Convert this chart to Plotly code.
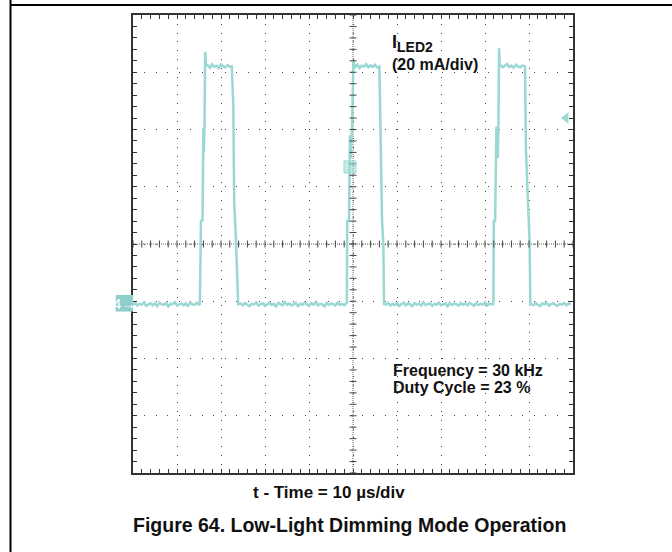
import numpy as np
import plotly.graph_objects as go

# ---------------- data (read from the scope capture) ----------------
# current in mA (20 mA/div), time in microseconds (10 us/div), 0 = screen centre
SAMPLE_US = 0.5

base1_t0 = -50.0
base1_mA = [-21.3, -20.6, -21.5, -20.9, -21.2, -20.4, -21.6, -21.0, -20.7, -21.4,
            -20.8, -21.7, -20.5, -21.1, -21.3, -20.6, -21.8, -20.9, -21.0, -20.3,
            -21.5, -21.2, -20.7, -21.4, -20.8, -21.6, -20.6, -21.1, -21.3, -20.5, -21.2]
rise1_t = [-34.8, -34.55, -34.2, -34.0, -33.9, -33.75, -33.6, -33.4]
rise1_mA = [-21.0, 8.4, 8.0, 40.4, 32.0, 41.0, 67.2, 62.5]
plat1_t0 = -33.0
plat1_mA = [62.4, 61.6, 62.8, 61.9, 62.3, 61.5, 62.7, 62.0, 61.7, 62.5, 61.9]
fall1_t = [-27.55, -27.2, -27.0, -26.6, -26.1]
fall1_mA = [62.0, 48.0, 14.2, 1.4, -21.0]

base2_t0 = -25.5
base2_mA = [-20.8, -21.4, -20.6, -21.2, -21.7, -20.9, -21.1, -20.4, -21.5, -21.0,
            -20.7, -21.6, -21.2, -20.5, -21.3, -20.9, -21.8, -20.6, -21.1, -21.4,
            -20.3, -21.2, -20.8, -21.5, -21.0, -20.6, -21.7, -20.9, -21.3, -20.5,
            -21.1, -21.6, -20.7, -21.2, -20.4, -21.4, -20.9, -21.1, -21.8, -20.6,
            -21.3, -20.8, -21.0, -21.5, -20.5, -21.2, -20.9, -21.4, -20.7]
rise2_t = [-1.4, -1.3, -0.9, -0.7, -0.5, -0.2, 0.1, 0.4]
rise2_mA = [-21.0, 8.0, 8.0, 38.0, 30.0, 42.0, 64.0, 62.0]
plat2_t0 = 0.5
plat2_mA = [61.8, 62.6, 61.5, 62.3, 62.0, 62.8, 61.7, 62.4, 61.9, 62.6, 61.6]
fall2_t = [6.0, 6.1, 6.35, 6.6, 6.9, 7.05]
fall2_mA = [62.0, 50.0, 22.0, 8.0, 0.0, -21.0]

base3_t0 = 7.5
base3_mA = [-21.2, -20.6, -21.5, -20.9, -21.3, -20.7, -21.6, -21.0, -20.5, -21.4,
            -20.8, -21.1, -21.7, -20.6, -21.2, -20.9, -21.5, -20.4, -21.3, -21.0,
            -20.7, -21.6, -20.9, -21.2, -20.5, -21.4, -21.1, -20.8, -21.8, -20.6,
            -21.3, -20.9, -21.0, -21.5, -20.6, -21.2, -20.8, -21.4, -20.5, -21.1,
            -21.6, -20.7, -21.3, -20.9, -21.2, -20.4, -21.5, -20.8, -21.1]
rise3_t = [31.9, 32.0, 32.3, 32.6, 32.9, 33.05, 33.2, 33.35]
rise3_mA = [-21.0, 8.0, 8.0, 41.0, 30.0, 41.0, 68.4, 62.0]
plat3_t0 = 33.5
plat3_mA = [62.5, 61.7, 62.2, 62.9, 61.8, 62.3, 61.6, 62.6, 62.0, 61.7, 62.4]
fall3_t = [39.1, 39.3, 39.6, 39.9, 40.15, 40.3]
fall3_mA = [62.0, 33.0, 20.0, 7.0, 0.0, -21.0]

base4_t0 = 40.5
base4_mA = [-20.9, -21.4, -20.6, -21.2, -21.7, -20.8, -21.1, -20.5, -21.5, -21.0,
            -20.7, -21.3, -21.6, -20.9, -21.2, -20.6, -21.4, -20.8, -21.1]

ref_level_mA = 44.0          # channel reference arrow at right
ground_mA = -21.0            # channel-4 ground marker
trig_t, trig_mA = -0.7, 26.9  # trigger marker

x_range = [-50, 50]
y_range = [-80, 80]
x_div, y_div = 10, 20

# ---------------- assemble trace ----------------
def sampled(t0, vals):
    return [t0 + SAMPLE_US * i for i in range(len(vals))], list(vals)

t_all, v_all = [], []
for part in [sampled(base1_t0, base1_mA), (rise1_t, rise1_mA), sampled(plat1_t0, plat1_mA), (fall1_t, fall1_mA),
             sampled(base2_t0, base2_mA), (rise2_t, rise2_mA), sampled(plat2_t0, plat2_mA), (fall2_t, fall2_mA),
             sampled(base3_t0, base3_mA), (rise3_t, rise3_mA), sampled(plat3_t0, plat3_mA), (fall3_t, fall3_mA),
             sampled(base4_t0, base4_mA)]:
    t_all += list(part[0])
    v_all += list(part[1])

TEAL = "#9ad8d4"
FONT = "Liberation Sans, Arial, sans-serif"

fig = go.Figure()
fig.add_trace(go.Scatter(x=t_all, y=v_all, mode="lines",
                         line=dict(color=TEAL, width=2.5), hoverinfo="skip", showlegend=False))

# centre-line minor ticks
xt = np.arange(x_range[0], x_range[1] + 0.001, x_div / 5)
yt = np.arange(y_range[0], y_range[1] + 0.001, y_div / 5)
fig.add_trace(go.Scatter(x=xt, y=np.zeros_like(xt), mode="markers",
                         marker=dict(symbol="line-ns", size=5, line=dict(width=1, color="#444")),
                         hoverinfo="skip", showlegend=False))
fig.add_trace(go.Scatter(x=np.zeros_like(yt), y=yt, mode="markers",
                         marker=dict(symbol="line-ew", size=5, line=dict(width=1, color="#444")),
                         hoverinfo="skip", showlegend=False))
# reference arrow
fig.add_trace(go.Scatter(x=[48.4], y=[ref_level_mA], mode="markers",
                         marker=dict(symbol="triangle-left", size=10, color=TEAL),
                         hoverinfo="skip", showlegend=False, cliponaxis=False))

shapes = [
    dict(type="line", xref="x", yref="y", x0=0, x1=0, y0=y_range[0], y1=y_range[1],
         line=dict(color="#666", width=1, dash="1px,1px"), layer="below"),
    dict(type="line", xref="x", yref="y", x0=x_range[0], x1=x_range[1], y0=0, y1=0,
         line=dict(color="#666", width=1, dash="1px,1px"), layer="below"),
    # channel ground marker box
    dict(type="rect", xref="paper", yref="y", x0=-0.0393, x1=0.0, y0=ground_mA - 2.6, y1=ground_mA + 3.2,
         fillcolor="#8ccfcb", line=dict(width=0), layer="above"),
    # trigger marker
    dict(type="rect", xref="x", yref="y", x0=trig_t - 1.35, x1=trig_t + 1.35, y0=trig_mA - 2.1, y1=trig_mA + 2.1,
         fillcolor="rgba(154,216,212,0.55)", line=dict(width=1, color=TEAL), layer="above"),
    # page frame
    dict(type="line", xref="paper", yref="paper", x0=-0.2784, x1=-0.2784, y0=1.04, y1=-0.18,
         line=dict(color="black", width=2)),
    dict(type="line", xref="paper", yref="paper", x0=-0.2784, x1=1.25, y0=1.0218, y1=1.0218,
         line=dict(color="black", width=2)),
]

annotations = [
    dict(text="I<sub><span style='font-size:14px'>LED2</span></sub>", xref="x", yref="y", x=8.3, y=70.0,
         xanchor="left", yanchor="middle", showarrow=False,
         font=dict(family=FONT, size=18, color="#111", weight="bold")),
    dict(text="(20 mA/div)", xref="x", yref="y", x=8.3, y=62.6, xanchor="left", yanchor="middle",
         showarrow=False, font=dict(family=FONT, size=16, color="#111", weight="bold")),
    dict(text="Frequency = 30 kHz", xref="x", yref="y", x=8.6, y=-44.3, xanchor="left", yanchor="middle",
         showarrow=False, font=dict(family=FONT, size=16, color="#111", weight="bold")),
    dict(text="Duty Cycle = 23 %", xref="x", yref="y", x=8.6, y=-50.0, xanchor="left", yanchor="middle",
         showarrow=False, font=dict(family=FONT, size=16, color="#111", weight="bold")),
    dict(text="4\u2192", xref="paper", yref="y", x=-0.0195, y=ground_mA + 0.3, xanchor="center",
         yanchor="middle", showarrow=False, font=dict(family=FONT, size=15, color="white")),
    dict(text="t - Time = 10 \u00b5s/div", xref="paper", yref="paper", x=0.4455, y=-0.0432,
         xanchor="center", yanchor="middle", showarrow=False,
         font=dict(family=FONT, size=17, color="#111", weight="bold")),
    dict(text="Figure 64. Low-Light Dimming Mode Operation", xref="paper", yref="paper", x=0.492, y=-0.1135,
         xanchor="center", yanchor="middle", showarrow=False,
         font=dict(family=FONT, size=19.5, color="#111", weight="bold")),
]

axis_common = dict(showline=True, linecolor="#333", linewidth=1.5, mirror="ticks",
                   ticks="inside", ticklen=4, tickcolor="#333", tickwidth=1,
                   showticklabels=False, zeroline=False, showgrid=True,
                   gridcolor="#444", gridwidth=1)

fig.update_layout(
    width=672, height=552, autosize=False,
    margin=dict(l=133, r=99, t=15, b=79),
    paper_bgcolor="white", plot_bgcolor="white",
    xaxis=dict(range=x_range, dtick=x_div, tick0=0, griddash="1px,7.8px",
               minor=dict(dtick=x_div / 5, ticks="inside", ticklen=4, tickcolor="#333", showgrid=False),
               **axis_common),
    yaxis=dict(range=y_range, dtick=y_div, tick0=0, griddash="1px,10.45px",
               minor=dict(dtick=y_div / 5, ticks="inside", ticklen=4, tickcolor="#333", showgrid=False),
               **axis_common),
    shapes=shapes, annotations=annotations, showlegend=False,
)

fig.write_html("out.html", config={"displayModeBar": False},
               post_script="document.body.style.margin='0';document.body.style.overflow='hidden';")
